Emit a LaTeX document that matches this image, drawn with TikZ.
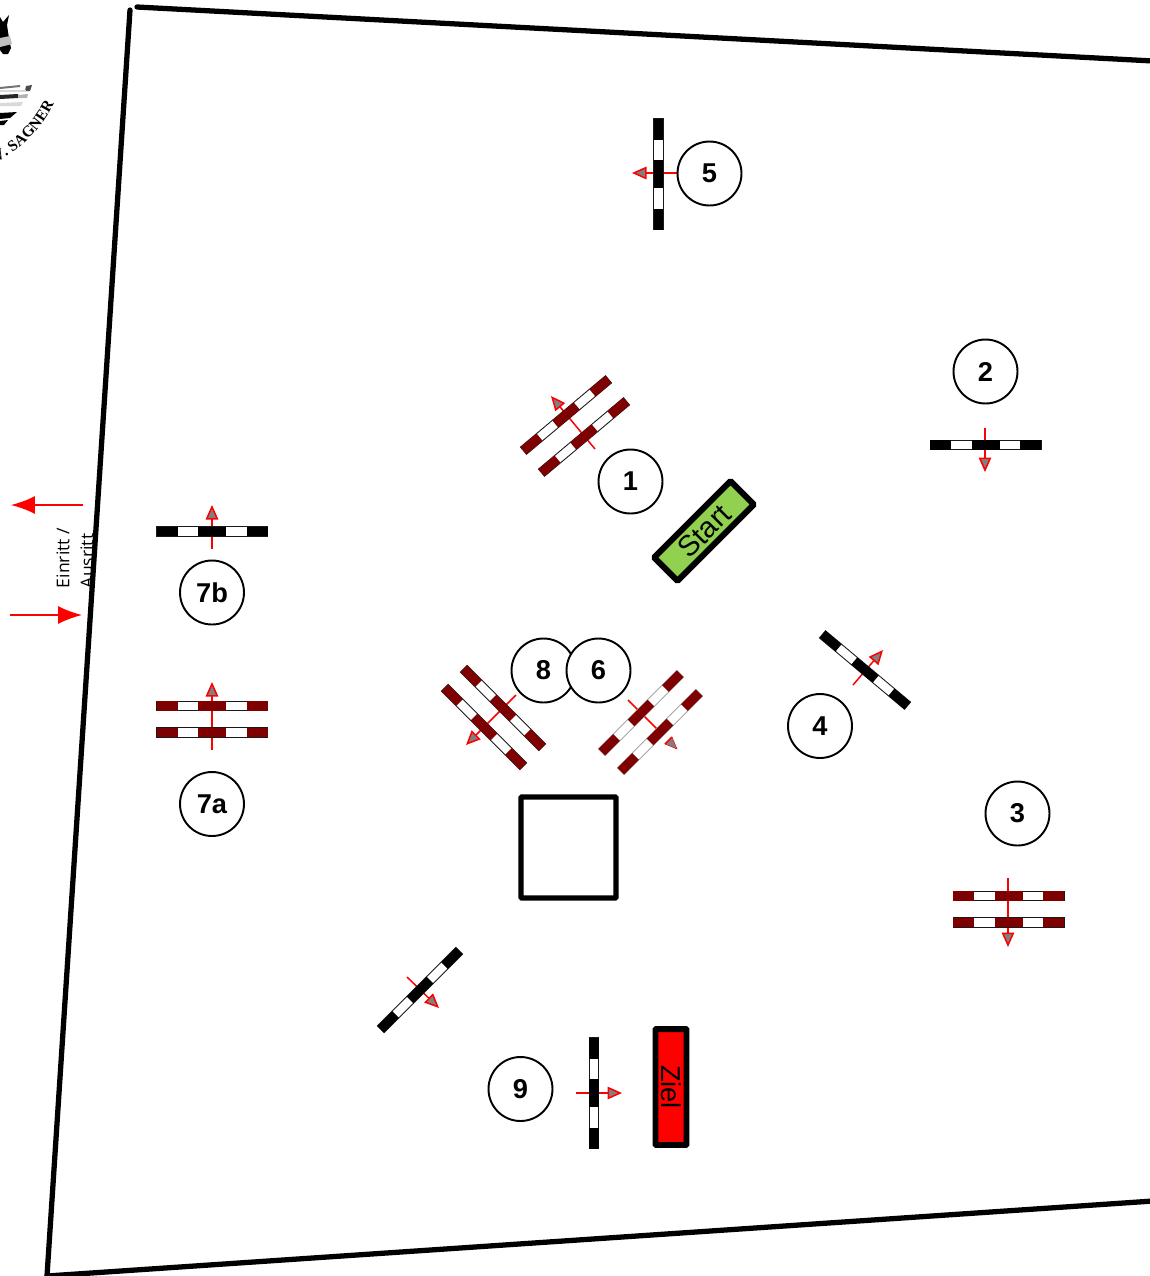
\documentclass[tikz,border=0pt]{standalone}
\usepackage{fontspec}
\setmainfont{Liberation Sans}
\newfontfamily\logofont{Liberation Serif}
\newfontfamily\gatefont{Open Sans}
\usetikzlibrary{arrows.meta, decorations.text}

\definecolor{polered}{HTML}{7F0000}
\definecolor{startgreen}{HTML}{92D050}

\tikzset{
    course/.style={red, line width=0.85pt, -{Triangle[length=0.29cm, width=0.25cm, fill=gray]}},
    gate/.style={red, line width=0.85pt, -{Latex[length=0.48cm, width=0.36cm]}},
    number/.style={circle, draw, fill=white, line width=1.1pt, minimum size=1.28cm, inner sep=0pt, font=\fontsize{15.5}{18}\selectfont\bfseries},
    field/.style={line width=3pt, line cap=round},
    banner/.style={draw, line width=3.4pt, rounded corners=0.5pt, inner sep=0pt},
    railedge/.style={draw=black!90}
}

% one rail: 111 px long, 10 px thick
\newcommand{\rail}[4]{
    \begin{scope}[shift={#2}, rotate=#3]
        \coordinate (#1) at (0,0);
        \fill[white, railedge, line width=0.5pt] (-55.5,-4.7) rectangle (55.5,4.7);
        \fill[#4] (-55.5,-4.7) rectangle (-34.5,4.7);
        \fill[#4] (-14,-4.7) rectangle (14,4.7);
        \fill[#4] (34.5,-4.7) rectangle (55.5,4.7);
    \end{scope}
}

\begin{document}
\begin{tikzpicture}[x=0.02cm, y=-0.02cm]
    \useasboundingbox (0,0) rectangle (1150,1276);
    \clip (0,0) rectangle (1150,1276);

    % Logo
    \fill (0,17) -- (3,22) -- (9,15) -- (7,25) -- (9,38) -- (11,48) -- (8,54) -- (3,54) -- (0,50) -- cycle;
    \fill[black!25] (0,38) -- (10,36) -- (12,44) -- (0,47) -- cycle;
    \fill[black!55] (0,87) -- (20,85) -- (20,87) -- (0,89) -- cycle;
    \fill[black!70] (26,86) -- (32,85) -- (30,91) -- (25,91) -- cycle;
    \fill[black!15] (0,90) -- (26,90) -- (26,92) -- (0,92) -- cycle;
    \fill[black!85] (0,95) -- (18,94) -- (18,98) -- (0,99) -- cycle;
    \fill[black!30] (18,95) -- (28,94) -- (27,98) -- (18,98) -- cycle;
    \fill[black!15] (0,103) -- (23,102) -- (21,106) -- (0,106) -- cycle;
    \fill (0,113) -- (17,112) -- (10,118) -- (0,119) -- cycle;
    \fill (0,121) -- (8,120) -- (4,125) -- (0,125) -- cycle;
    \path[decorate, decoration={text along path, text align=right,
        text={|\logofont\bfseries\fontsize{8.8}{10}\selectfont|V. SAGNER}}]
        (-15,167) .. controls (10,158) and (38,136) .. (54,104);

    % Entrance
    \coordinate (exitA) at (83,505);
    \coordinate (exitB) at (11,505);
    \coordinate (entryA) at (10,615);
    \coordinate (entryB) at (82,615);
    \draw[gate] (exitA) -- (exitB);
    \draw[gate] (entryA) -- (entryB);
    \node[rotate=90, align=left, font=\gatefont\fontsize{10}{13.6}\selectfont, anchor=center] (gatetext) at (75,558) {Einritt /\\Ausritt};

    % Field
    \draw[field] (130,10) -- (47,1276);
    \draw[field] (137,7) -- (1153,61);
    \draw[field] (47,1276) -- (1153,1201);

    % Direction of the jumps
    \coordinate (a1) at (595,449);
    \coordinate (b1) at (551,396);
    \draw[course] (a1) -- (b1);
    \coordinate (a2) at (985,428);
    \coordinate (b2) at (985,472);
    \draw[course] (a2) -- (b2);
    \coordinate (a3) at (1008,878);
    \coordinate (b3) at (1008,947);
    \draw[course] (a3) -- (b3);
    \coordinate (a4) at (853,685);
    \coordinate (b4) at (883,650);
    \draw[course] (a4) -- (b4);
    \coordinate (a5) at (677,173);
    \coordinate (b5) at (632,173);
    \draw[course] (a5) -- (b5);
    \coordinate (a6) at (628,700);
    \coordinate (c6) at (657,729);
    \draw[red, line width=0.85pt] (a6) -- (c6);
    \coordinate (t6a) at (665,744);
    \coordinate (t6b) at (672,737);
    \coordinate (b6) at (677,749);
    \fill[gray] (t6a) -- (t6b) -- (b6) -- cycle;
    \draw[red, line width=0.3pt] (t6b) -- (b6) -- (t6a);
    \draw[red, line width=0.85pt] (t6a) -- (t6b);
    \coordinate (a7a) at (212,750);
    \coordinate (b7a) at (212,682);
    \draw[course] (a7a) -- (b7a);
    \coordinate (a7b) at (212,549);
    \coordinate (b7b) at (212,505);
    \draw[course] (a7b) -- (b7b);
    \coordinate (a8) at (516,695);
    \coordinate (b8) at (466,745);
    \draw[course] (a8) -- (b8);
    \coordinate (a9) at (407,977);
    \coordinate (b9) at (439,1008);
    \draw[course] (a9) -- (b9);
    \coordinate (a10) at (576,1093);
    \coordinate (b10) at (622,1093);
    \draw[course] (a10) -- (b10);

    % Jumps
    \rail{r1a}{(566,415)}{40}{polered}
    \rail{r1b}{(584,437)}{40}{polered}
    \rail{r2}{(985.5,445)}{0}{black}
    \rail{r3a}{(1008.5,896)}{0}{polered}
    \rail{r3b}{(1008.5,922.5)}{0}{polered}
    \rail{r4}{(865,670)}{-40}{black}
    \rail{r5}{(658.5,174)}{90}{black}
    \begin{scope}[railedge/.style={draw=black!35}]
        \rail{r6a}{(641,713)}{45}{polered}
        \rail{r6b}{(660,732)}{45}{polered}
    \end{scope}
    \rail{r7aa}{(212,706)}{0}{polered}
    \rail{r7ab}{(212,732.5)}{0}{polered}
    \rail{r7b}{(212,531.5)}{0}{black}
    \rail{r8a}{(503,708)}{-45}{polered}
    \rail{r8b}{(484,727)}{-45}{polered}
    \rail{r9}{(420,990)}{45}{black}
    \rail{r10}{(594,1093)}{90}{black}

    % Numbers
    \node[number] (n1) at (630.5,481.5) {1};
    \node[number] (n2) at (985.5,371.5) {2};
    \node[number] (n3) at (1017.5,813.5) {3};
    \node[number] (n4) at (820,726) {4};
    \node[number] (n5) at (709.5,173.5) {5};
    \node[number] (n7b) at (212,592.5) {7b};
    \node[number] (n7a) at (212,804) {7a};
    \node[number] (n8) at (543.5,670.5) {8};
    \node[number] (n6) at (598.5,670.5) {6};
    \node[number] (n9) at (520.5,1089) {9};

    % Start, finish, box
    \node[banner, fill=startgreen, rotate=45, minimum width=2.16cm, minimum height=0.66cm, font=\fontsize{16.5}{18}\selectfont] (start) at (704,531) {Start};
    \node[banner, fill=red, rotate=-90, minimum width=2.32cm, minimum height=0.62cm, font=\fontsize{15.5}{17}\selectfont] (finish) at (671,1087) {Ziel};
    \node[banner, line width=3.1pt, minimum width=1.9cm, minimum height=2.02cm] (box) at (568.5,847.5) {};
\end{tikzpicture}
\end{document}
